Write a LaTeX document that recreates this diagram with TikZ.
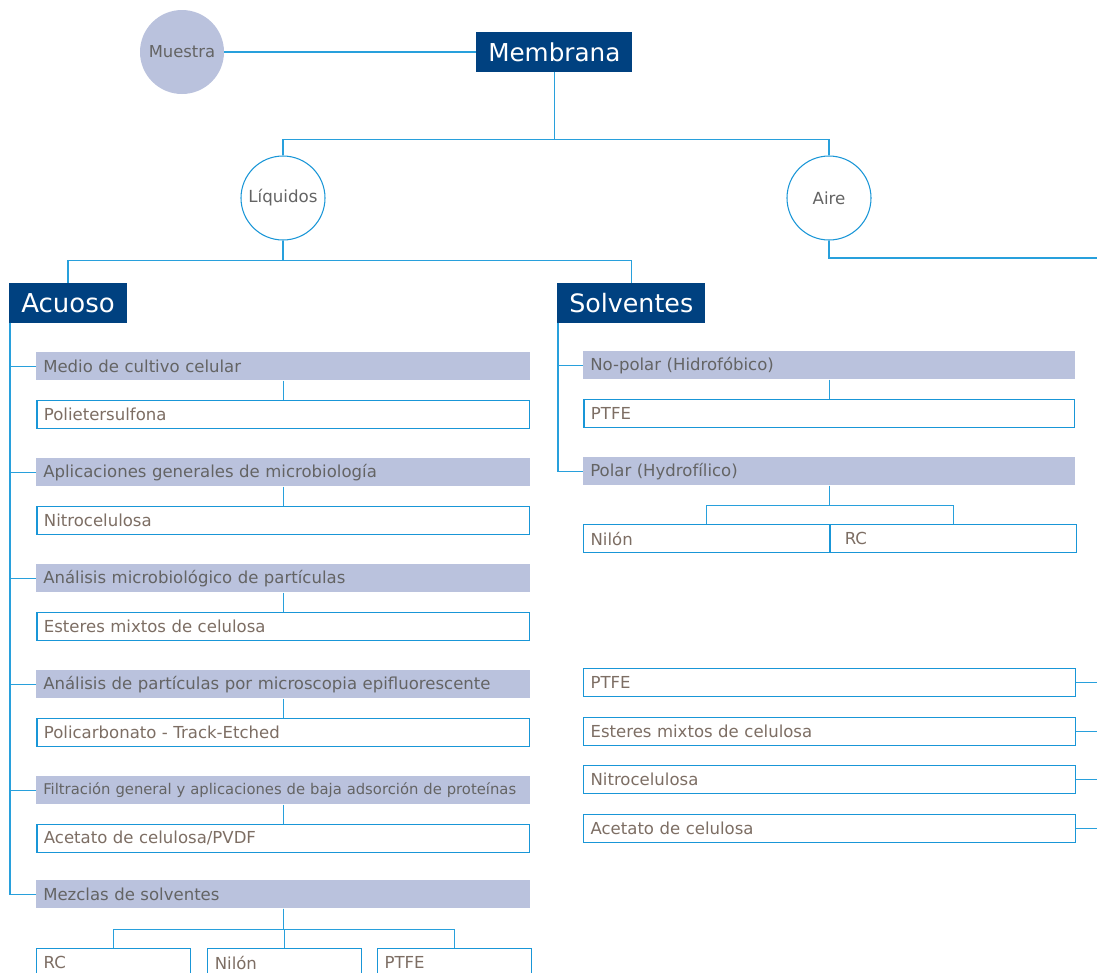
\documentclass[tikz,border=0pt]{standalone}
\usepackage{fontspec}
\setmainfont{DejaVu Sans}
\usetikzlibrary{positioning}
\definecolor{navy}{RGB}{0,65,128}
\definecolor{lav}{RGB}{186,194,221}
\definecolor{wire}{RGB}{40,160,220}
\definecolor{edge}{RGB}{25,150,215}
\definecolor{catgray}{RGB}{100,100,100}
\definecolor{itemgray}{RGB}{125,110,100}

\begin{document}
\begin{tikzpicture}[x=0.75pt,y=-0.75pt]
\tikzset{head/.style={rectangle, fill=navy, text=white, inner xsep=9pt, inner ysep=0pt, minimum height=29.5pt, font=\fontsize{19.5}{21}\selectfont}}
\tikzset{ball/.style={circle, fill=lav, text=catgray, minimum size=63pt, inner sep=0pt, font=\fontsize{12.3}{14}\selectfont}}
\tikzset{ring/.style={circle, draw=edge, line width=0.8pt, fill=white, text=catgray, minimum size=63pt, inner sep=0pt, font=\fontsize{12.5}{14}\selectfont}}
\tikzset{cat/.style={rectangle, fill=lav, text=catgray, text width=360pt, align=left, inner xsep=5.25pt, inner ysep=0pt, minimum height=21pt, font=\fontsize{12.4}{14}\selectfont}}
\tikzset{item/.style={rectangle, draw=edge, line width=0.9pt, fill=white, text=itemgray, text width=359pt, align=left, inner xsep=5.25pt, inner ysep=0pt, minimum height=21pt, font=\fontsize{12.4}{14}\selectfont}}
\tikzset{conn/.style={draw=wire, line width=0.8pt}}
\useasboundingbox (0,0) rectangle (1097,972);
\clip (0,0) rectangle (1097,972);

% top
\node[head, anchor=north west, font=\fontsize{18.5}{20}\selectfont] (memb) at (476,32) {Membrana};
\node[ball] (muestra) at (182,52) {Muestra};
\node[ring] (liq) at (283,198) {Líquidos};
\node[ring] (aire) at (829,198) {Aire};
\node[head, anchor=north west] (acuoso) at (9,283) {Acuoso};
\node[head, anchor=north west, font=\fontsize{19}{21}\selectfont] (solv) at (557,283) {Solventes};
\coordinate (aireout) at (1097,258);

% acuoso
\node[cat, anchor=north west] (medio) at (36,352) {Medio de cultivo celular};
\node[item, below=14.25pt of medio] (pes) {Polietersulfona};
\node[cat, anchor=north west] (micro) at (36,458) {Aplicaciones generales de microbiología};
\node[item, below=14.25pt of micro] (nitro) {Nitrocelulosa};
\node[cat, anchor=north west] (particulas) at (36,564) {Análisis microbiológico de partículas};
\node[item, below=14.25pt of particulas] (esteres) {Esteres mixtos de celulosa};
\node[cat, anchor=north west] (epi) at (36,670) {Análisis de partículas por microscopia epifluorescente};
\node[item, below=14.25pt of epi] (poli) {Policarbonato - Track-Etched};
\node[cat, anchor=north west, font=\fontsize{11.1}{13}\selectfont] (filtra) at (36,776) {Filtración general y aplicaciones de baja adsorción de proteínas};
\node[item, below=14.25pt of filtra] (pvdf) {Acetato de celulosa/PVDF};
\node[cat, anchor=north west] (mezcla) at (36,880) {Mezclas de solventes};
\node[item, anchor=north west, text width=105pt] (rcb) at (36,948) {RC};
\node[item, text width=105pt, right=12pt of rcb] (nilonb) {Nilón};
\node[item, text width=105pt, right=11pt of nilonb] (ptfeb) {PTFE};

% solventes
\node[cat, anchor=north west, text width=358.5pt] (nopolar) at (583,351) {No-polar (Hidrofóbico)};
\node[item, below=14.25pt of nopolar, text width=357.5pt] (ptfea) {PTFE};
\node[cat, anchor=north west, text width=358.5pt] (polar) at (583,457) {Polar (Hydrofílico)};
\node[item, anchor=north west, text width=174pt] (nilona) at (583,524) {Nilón};
\node[item, right=0pt of nilona, inner xsep=10.5pt, text width=163.5pt] (rca) {RC};

% aire
\node[item, anchor=north west, text width=358.5pt] (aptfe) at (583,668) {PTFE};
\node[item, below=14.5pt of aptfe, text width=358.5pt] (aesteres) {Esteres mixtos de celulosa};
\node[item, below=14.5pt of aesteres, text width=358.5pt] (anitro) {Nitrocelulosa};
\node[item, below=14.5pt of anitro, text width=358.5pt] (aacetato) {Acetato de celulosa};

% connectors
\draw[conn] (muestra.east) -- (muestra.east -| memb.west);
\draw[conn] (memb.south) -- ++(0,68) -| (liq.north);
\draw[conn] (memb.south) -- ++(0,68) -| (aire.north);
\draw[conn] (liq.south) -- ++(0,20) -| (acuoso.north);
\draw[conn] (liq.south) -- ++(0,20) -| (solv.north);
\draw[conn] (aire.south) |- (aireout);
\foreach \c in {medio,micro,particulas,epi,filtra,mezcla}
  \draw[conn] ([xshift=0.75pt]acuoso.south west) |- (\c.west);
\foreach \c/\m in {medio/pes,micro/nitro,particulas/esteres,epi/poli,filtra/pvdf}
  \draw[conn] (\c.south) -- (\m.north);
\foreach \m in {rcb,nilonb,ptfeb}
  \draw[conn] (mezcla.south) -- ++(0,21) -| (\m.north);
\foreach \c in {nopolar,polar}
  \draw[conn] ([xshift=0.75pt]solv.south west) |- (\c.west);
\draw[conn] (nopolar.south) -- (ptfea.north);
\foreach \m in {nilona,rca}
  \draw[conn] (polar.south) -- ++(0,20) -| (\m.north);
\foreach \a in {aptfe,aesteres,anitro,aacetato}
  \draw[conn] (\a.east) -- (\a.east -| aireout);
\end{tikzpicture}
\end{document}
